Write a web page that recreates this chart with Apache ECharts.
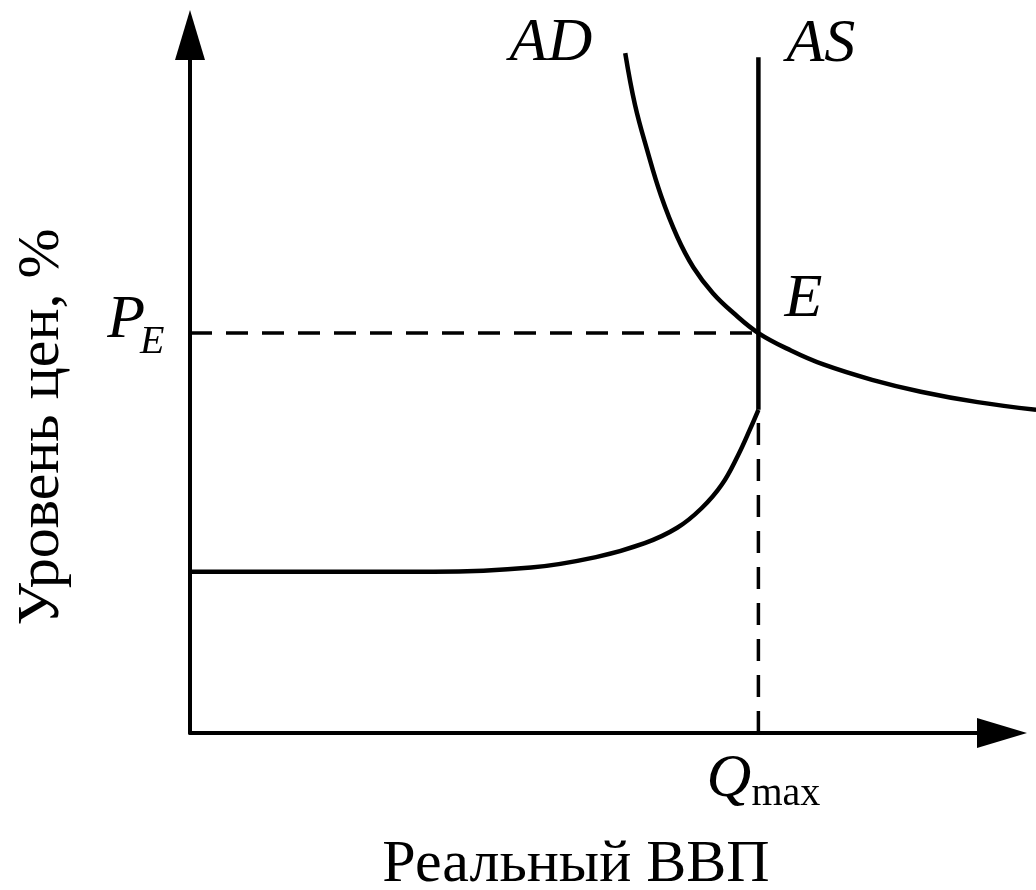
<!DOCTYPE html>
<html lang="ru">
<head>
    <meta charset="UTF-8">
    <title>AD-AS</title>
    <script src="https://cdn.jsdelivr.net/npm/echarts@6.0.0/dist/echarts.min.js"></script>
    <style>
        html, body {
            margin: 0;
            padding: 0;
            background: #fff;
        }

        #chart {
            width: 1036px;
            height: 890px;
        }
    </style>
</head>
<body>
    <div id="chart"></div>

    <script>
        // values, both axes on a 0..100 scale
        const adX = [53.6, 54.8, 56.3, 58.0, 60.0, 62.0, 64.4, 66.9, 70.0, 74.0, 78.0, 84.0, 90.0, 97.0, 104.2];
        const adY = [97.4, 90.0, 83.5, 77.0, 71.1, 66.7, 63.0, 60.2, 57.3, 54.8, 52.8, 50.6, 48.9, 47.4, 46.3];
        const asCurveX = [0, 30.0, 42.0, 50.0, 56.0, 60.0, 63.0, 65.5, 67.5, 69.0, 70.0];
        const asCurveY = [23.1, 23.1, 23.7, 25.2, 27.2, 29.4, 32.2, 35.6, 39.8, 43.6, 46.3];
        const qMax = 70;
        const pE = 57.3;
        const asTop = 96.8;
        const asKink = 46.3;

        const zip = (xs, ys) => xs.map((x, i) => [x, ys[i]]);

        const W = 1036;
        const axisLeft = 190;
        const axisEnd = 1002;   // where the x axis line stops (arrow centre)

        const chart = echarts.init(document.getElementById('chart'), null, { renderer: 'canvas' });

        const solid = { color: '#000', width: 4.5 };
        const dashed = { color: '#000', width: 3.5, type: [22, 14] };

        const visibleAxis = {
            type: 'value',
            min: 0,
            max: 100,
            axisLine: {
                show: true,
                lineStyle: { color: '#000', width: 4 },
                symbol: ['none', 'triangle'],
                symbolSize: [30, 50]
            },
            axisTick: { show: false },
            axisLabel: { show: false },
            splitLine: { show: false }
        };

        const hiddenAxis = {
            type: 'value',
            min: 0,
            max: 100,
            show: false,
            splitLine: { show: false }
        };

        // second grid runs to the right edge so AD can pass the arrow, same scale as the first
        const wideMax = 100 * (W - axisLeft) / (axisEnd - axisLeft);

        const curve = (name, data) => ({
            name: name,
            type: 'line',
            xAxisIndex: 1,
            yAxisIndex: 1,
            data: data,
            smooth: 0.4,
            symbol: 'none',
            clip: false,
            lineStyle: solid
        });

        const straight = (name, data, style) => ({
            name: name,
            type: 'line',
            xAxisIndex: 1,
            yAxisIndex: 1,
            data: data,
            symbol: 'none',
            lineStyle: style
        });

        chart.setOption({
            animation: false,
            backgroundColor: '#fff',
            grid: [
                { left: axisLeft, right: W - axisEnd, top: 35, bottom: 157 },
                { left: axisLeft, right: 0, top: 35, bottom: 157 }
            ],
            xAxis: [
                Object.assign({ gridIndex: 0 }, visibleAxis),
                Object.assign({}, hiddenAxis, { gridIndex: 1, max: wideMax })
            ],
            yAxis: [
                Object.assign({ gridIndex: 0 }, visibleAxis),
                Object.assign({ gridIndex: 1 }, hiddenAxis)
            ],
            series: [
                curve('AD', zip(adX, adY)),
                curve('AS', zip(asCurveX, asCurveY)),
                straight('AS vertical', [[qMax, asKink], [qMax, asTop]], solid),
                straight('PE', [[0, pE], [qMax, pE]], dashed),
                straight('Qmax', [[qMax, 0], [qMax, asKink]], dashed)
            ]
        });

        // text labels, placed next to the points they name
        const toPx = (x, y) => chart.convertToPixel({ gridIndex: 1 }, [x, y]);
        const serif = '"Liberation Serif", "DejaVu Serif", serif';

        function label(text, x, y, size, italic, align, rotation) {
            return {
                type: 'text',
                x: x,
                y: y,
                rotation: rotation || 0,
                silent: true,
                style: {
                    text: text,
                    font: (italic ? 'italic ' : '') + size + 'px ' + serif,
                    fill: '#000',
                    align: align,
                    textAlign: align,
                    verticalAlign: 'middle',
                    textVerticalAlign: 'middle'
                }
            };
        }

        const adTop = toPx(adX[0], adY[0]);
        const asTopPx = toPx(qMax, asTop);
        const ePx = toPx(qMax, pE);
        const peAxis = toPx(0, pE);
        const qAxis = toPx(qMax, 0);

        chart.setOption({
            graphic: [
                label('AD', adTop[0] - 33, adTop[1] - 9, 62, true, 'right'),
                label('AS', asTopPx[0] + 28, asTopPx[1] - 13, 62, true, 'left'),
                label('E', ePx[0] + 26, ePx[1] - 33, 62, true, 'left'),
                label('P', peAxis[0] - 45, peAxis[1] - 12, 62, true, 'right'),
                label('E', peAxis[0] - 50, peAxis[1] + 9, 40, true, 'left'),
                label('Q', qAxis[0] - 52, qAxis[1] + 47, 62, true, 'left'),
                label('max', qAxis[0] - 7, qAxis[1] + 61, 40, false, 'left'),
                label('Реальный ВВП', 576, 865, 60, false, 'center'),
                label('Уровень цен, %', 42, 427, 60, false, 'center', Math.PI / 2)
            ]
        });
    </script>
</body>
</html>
